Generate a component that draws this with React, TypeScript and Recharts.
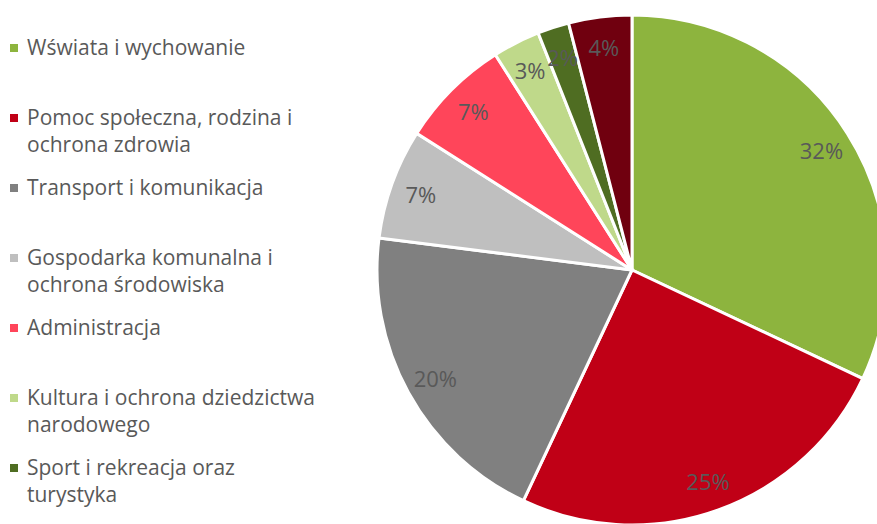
import { Cell, Pie, PieChart } from "recharts";

const INK = "#595959";
const FONT = "'Open Sans', sans-serif";

const CATEGORIES = [
  "Wświata i wychowanie",
  "Pomoc społeczna, rodzina i ochrona zdrowia",
  "Transport i komunikacja",
  "Gospodarka komunalna i ochrona środowiska",
  "Administracja",
  "Kultura i ochrona dziedzictwa narodowego",
  "Sport i rekreacja oraz turystyka",
  "Pozostałe",
];
// legend text is wrapped like the original; the last entry falls below the frame
const LEGEND_LINES = [
  ["Wświata i wychowanie"],
  ["Pomoc społeczna, rodzina i", "ochrona zdrowia"],
  ["Transport i komunikacja"],
  ["Gospodarka komunalna i", "ochrona środowiska"],
  ["Administracja"],
  ["Kultura i ochrona dziedzictwa", "narodowego"],
  ["Sport i rekreacja oraz", "turystyka"],
];
const SHARES = [32, 25, 20, 7, 7, 3, 2, 4];
const COLORS = ["#8db43e", "#c00016", "#808080", "#bfbfbf", "#ff455a", "#bfd98a", "#4f6d22", "#70000f"];

const data = CATEGORIES.map((name, i) => ({ name, value: SHARES[i] }));

const RAD = Math.PI / 180;

function renderLabel(p: any) {
  const r = p.outerRadius * 0.88;
  const x = p.cx + r * Math.cos(-p.midAngle * RAD);
  const y = p.cy + r * Math.sin(-p.midAngle * RAD);
  return (
    <text x={x} y={y} fill={INK} fontSize={22} fontFamily={FONT} textAnchor="middle" dominantBaseline="central">
      {`${p.value}%`}
    </text>
  );
}

function ChartLegend() {
  return (
    <div style={{ position: "absolute", left: 8, top: 34, width: 340, fontFamily: FONT, fontSize: 21, color: INK }}>
      {LEGEND_LINES.map((lines, i) => (
        <div key={i} style={{ position: "relative", height: 70, paddingLeft: 19 }}>
          <span style={{ position: "absolute", left: 2, top: 10, width: 8, height: 8, background: COLORS[i] }} />
          {lines.map((l, j) => (
            <div key={j} style={{ lineHeight: "27px", whiteSpace: "nowrap" }}>{l}</div>
          ))}
        </div>
      ))}
    </div>
  );
}

export default function App() {
  return (
    <div style={{ position: "absolute", left: 0, top: 0, width: 877, height: 524, overflow: "hidden", background: "#fff" }}>
      <PieChart width={877} height={524} margin={{ top: 0, right: 0, bottom: 0, left: 0 }}>
        <Pie
          data={data}
          dataKey="value"
          nameKey="name"
          cx={632}
          cy={270}
          outerRadius={255}
          startAngle={90}
          endAngle={-270}
          stroke="#fff"
          strokeWidth={3}
          label={renderLabel}
          labelLine={false}
          isAnimationActive={false}
        >
          {data.map((_, i) => <Cell key={i} fill={COLORS[i]} />)}
        </Pie>
      </PieChart>
      <ChartLegend />
    </div>
  );
}
